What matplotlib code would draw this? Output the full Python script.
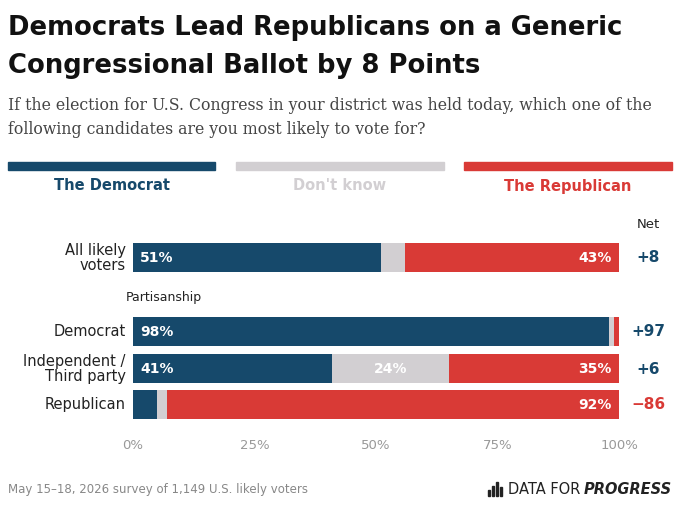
import matplotlib
matplotlib.use("Agg")
import matplotlib.pyplot as plt

groups = ["All likely\nvoters", "Democrat", "Independent /\nThird party", "Republican"]
dem = [51, 98, 41, 5]
dk = [5, 1, 24, 2]
rep = [43, 1, 35, 92]
net = ["+8", "+97", "+6", "\u221286"]
ticks = [0, 25, 50, 75, 100]

BLUE = "#16496b"; RED = "#d93a36"; GRAY = "#d2cfd2"
W, H = 680, 506
fig = plt.figure(figsize=(W/100, H/100), dpi=100)
def fx(x): return x / W
def fy(y): return 1 - y / H

fig.text(fx(8), fy(28), "Democrats Lead Republicans on a Generic", fontsize=18.6, weight="bold", va="center", color="#111")
fig.text(fx(8), fy(66), "Congressional Ballot by 8 Points", fontsize=18.6, weight="bold", va="center", color="#111")
fig.text(fx(8), fy(105), "If the election for U.S. Congress in your district was held today, which one of the",
         fontsize=11.3, family="DejaVu Serif", va="center", color="#444")
fig.text(fx(8), fy(129), "following candidates are you most likely to vote for?",
         fontsize=11.3, family="DejaVu Serif", va="center", color="#444")

for (x0, x1, lab, c, tc) in [(8, 215, "The Democrat", BLUE, BLUE), (236, 444, "Don't know", GRAY, GRAY),
                            (464, 672, "The Republican", RED, RED)]:
    fig.patches.append(plt.Rectangle((fx(x0), fy(171)), fx(x1 - x0), 8 / H, transform=fig.transFigure, color=c))
    fig.text(fx((x0 + x1) / 2), fy(186), lab, fontsize=10.5, weight="bold", color=tc, ha="center", va="center")

ax = fig.add_axes([fx(133), fy(430), fx(486), 200 / H])
ax.set_xlim(0, 100); ax.set_ylim(430, 230)
ys = [258, 332, 369, 405]
h = 29
for i, y in enumerate(ys):
    ax.barh(y, dem[i], height=h, color=BLUE)
    ax.barh(y, dk[i], left=dem[i], height=h, color=GRAY)
    ax.barh(y, 100 - dem[i] - dk[i], left=dem[i] + dk[i], height=h, color=RED)
    if dem[i] >= 10:
        ax.text(1.5, y, f"{dem[i]}%", color="white", weight="bold", fontsize=10, va="center")
    if dk[i] >= 10:
        ax.text(dem[i] + dk[i] / 2, y, f"{dk[i]}%", color="white", weight="bold", fontsize=10, va="center", ha="center")
    if rep[i] >= 10:
        ax.text(98.5, y, f"{rep[i]}%", color="white", weight="bold", fontsize=10, va="center", ha="right")
    ax.text(-1.5, y, groups[i], ha="right", va="center", fontsize=10.5, color="#222", linespacing=1.0)
    ax.text(106, y, net[i], ha="center", va="center", fontsize=11, weight="bold",
            color=RED if net[i].startswith("\u2212") else BLUE)
ax.text(106, 224, "Net", ha="center", va="center", fontsize=9.5, color="#222")
ax.text(-1.5, 297, "Partisanship", ha="left", va="center", fontsize=9, color="#222")
for t in ticks:
    ax.text(t, 446, f"{t}%", ha="center", va="center", fontsize=9.5, color="#999")
ax.axis("off")

fig.text(fx(8), fy(490), "May 15\u201318, 2026 survey of 1,149 U.S. likely voters", fontsize=8.5, color="#888", va="center")
p = fig.text(fx(672), fy(490), "PROGRESS", fontsize=10.5, color="#222", weight="bold", style="italic", va="center", ha="right")
r = fig.canvas.get_renderer()
left = p.get_window_extent(r).x0
d = fig.text((left - 4) / W, fy(490), "DATA FOR", fontsize=10.5, color="#222", va="center", ha="right")
dl = d.get_window_extent(r).x0
for k, hh in enumerate([6, 10, 14, 9]):
    fig.patches.append(plt.Rectangle(((dl - 20 + k * 4) / W, fy(497)), fx(2.5), hh / H, transform=fig.transFigure, color="#222"))
fig.savefig("out.png", dpi=100)
